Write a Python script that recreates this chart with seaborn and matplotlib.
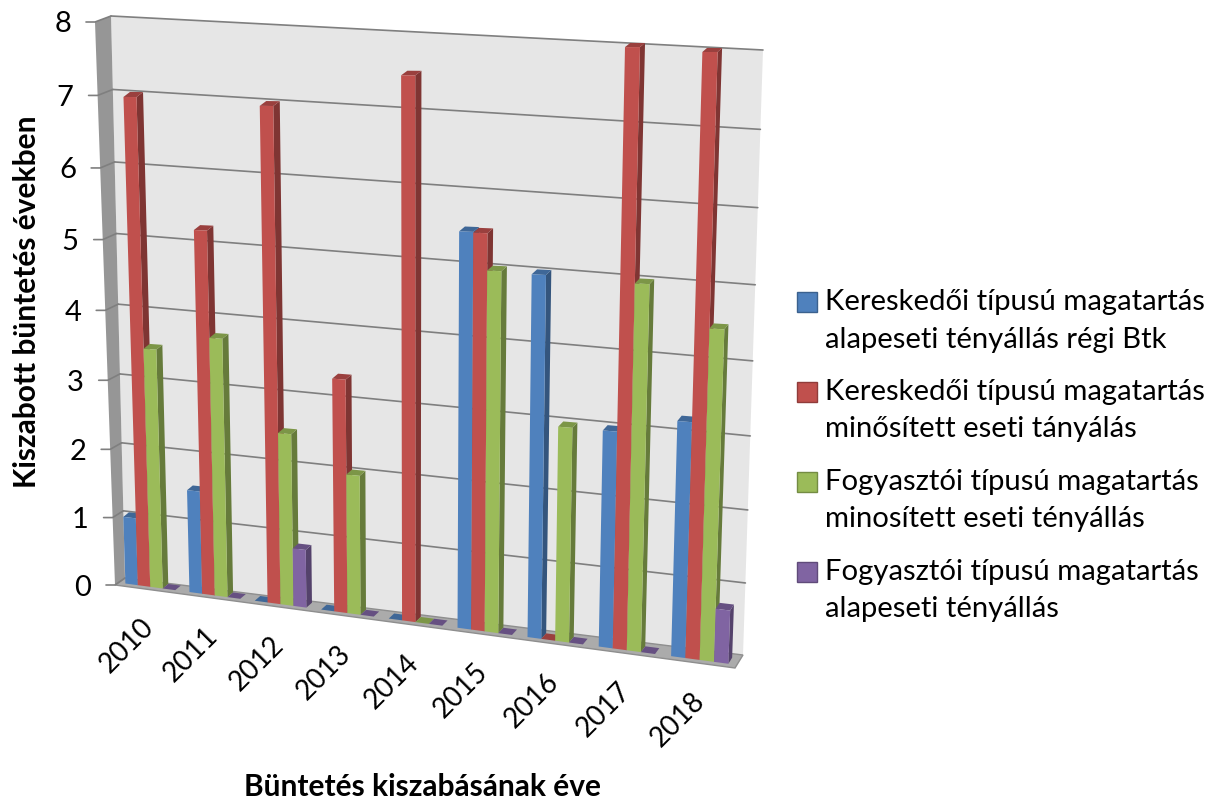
import numpy as np
import pandas as pd
import seaborn as sns
import matplotlib
matplotlib.use("Agg")
import matplotlib.pyplot as plt
from matplotlib.patches import Polygon, Patch, Rectangle
from matplotlib.transforms import Transform, Affine2D
from matplotlib.legend_handler import HandlerPatch

years = ["2010", "2011", "2012", "2013", "2014", "2015", "2016", "2017", "2018"]
s1_name = "Kereskedői típusú magatartás\nalapeseti tényállás régi Btk"
s2_name = "Kereskedői típusú magatartás\nminősített eseti tányálás"
s3_name = "Fogyasztói típusú magatartás\nminosített eseti tényállás"
s4_name = "Fogyasztói típusú magatartás\nalapeseti tényállás"
s1 = [1.0, 1.5, 0, 0, 0, 5.33, 4.82, 2.87, 3.07]
s2 = [7.0, 5.2, 6.9, 3.27, 7.31, 5.32, 0, 7.66, 7.6]
s3 = [3.49, 3.71, 2.45, 1.96, 0, 4.84, 2.87, 4.77, 4.26]
s4 = [0, 0, 0.83, 0, 0, 0, 0, 0, 0.7]
colors = {s1_name: "#4F81BD", s2_name: "#C0504D", s3_name: "#9BBB59", s4_name: "#8064A2"}
y_label = "Kiszabott büntetés években"
x_label = "Büntetés kiszabásának éve"

sns.set_theme(style="white")
plt.rcParams["font.family"] = ["Lato", "DejaVu Sans"]

rows = [(y, n, v) for n, vals in [(s1_name, s1), (s2_name, s2), (s3_name, s3), (s4_name, s4)]
        for y, v in zip(years, vals)]
df = pd.DataFrame(rows, columns=["year", "series", "value"])


def homography(src, dst):
    A, b = [], []
    for (x, y), (X, Y) in zip(src, dst):
        A.append([x, y, 1, 0, 0, 0, -x * X, -y * X]); b.append(X)
        A.append([0, 0, 0, x, y, 1, -x * Y, -y * Y]); b.append(Y)
    return np.append(np.linalg.solve(np.array(A, float), np.array(b, float)), 1).reshape(3, 3)


class Proj(Transform):
    """Projective map; bow widens the spacing of the categories in the middle of the chart."""
    input_dims = output_dims = 2
    is_separable = False
    has_inverse = False

    def __init__(self, H, bow=0.0, span=(0.0, 8.0)):
        super().__init__()
        self.H, self.bow, self.span = H, bow, span

    def transform_non_affine(self, values):
        v = np.array(values, float)
        v[:, 0] = v[:, 0] + self.bow * (v[:, 0] - self.span[0]) * (self.span[1] - v[:, 0])
        p = np.c_[v, np.ones(len(v))] @ self.H.T
        return p[:, :2] / p[:, 2:]


W, Hpx = 1224, 800
pix = Affine2D().scale(1, -1).translate(0, Hpx)

fig = plt.figure(figsize=(W / 100, Hpx / 100), dpi=100)
ax = fig.add_axes([0, 0, 1, 1])
group_width = 0.78
sns.barplot(data=df, x="year", y="value", hue="series", hue_order=list(colors), palette=colors,
            order=years, width=group_width, saturation=1, linewidth=0, legend=False, ax=ax)
w = group_width / 4

# Perspective planes
ulo, uhi = -0.5, 8.5
ua, ub = -w / 2, 8 - w / 2
front_src = [(ua, 0), (ua, 7), (ub, 0), (ub, 7.6)]
front_dst = [(144, 586), (130, 97), (692.5, 659), (710, 52)]
depth = [(5.5, -4.5), (6.5, -5), (4, -6), (4.5, -4)]
H_front = homography(front_src, front_dst)
H_depth = homography(front_src, [(a + c, b + d) for (a, b), (c, d) in zip(front_dst, depth)])
wall_src = [(ulo, 0), (ulo, 8), (uhi, 0), (uhi, 8)]
H_wall = homography(wall_src, [(125, 578), (111, 16), (743, 655), (763, 50)])
H_frame = homography(wall_src, [(115, 585), (95, 22), (735, 668), (747, 56)])
BOW = 0.0075
P_front = Proj(H_front, BOW, (ua, ub))
P_depth = Proj(H_depth, BOW, (ua, ub))
P_wall, P_frame = Proj(H_wall), Proj(H_frame)
T_front, T_wall, T_frame = P_front + pix, P_wall + pix, P_frame + pix


def to_px(proj, u, v):
    return proj.transform(np.array([[u, v]], float))[0]


ax.set_xlim(ulo, uhi)
ax.set_ylim(0, 8)
for s in ax.spines.values():
    s.set_visible(False)
ax.set_xticks([])
ax.set_yticks([])

bars = sorted([p for p in ax.patches if isinstance(p, Rectangle)], key=lambda p: p.get_x())

# Walls and floor
ax.add_patch(Polygon([(ulo, 0), (uhi, 0), (uhi, 8), (ulo, 8)], closed=True, transform=T_wall,
                     fc="#E6E6E6", ec="none", zorder=0.5))
side = [to_px(P_frame, ulo, 0), to_px(P_frame, ulo, 8), to_px(P_wall, ulo, 8), to_px(P_wall, ulo, 0)]
ax.add_patch(Polygon(side, closed=True, transform=pix, fc="#969696", ec="none", zorder=0.6))
floor = [to_px(P_frame, ulo, 0), to_px(P_wall, ulo, 0), to_px(P_wall, uhi, 0), to_px(P_frame, uhi, 0)]
ax.add_patch(Polygon(floor, closed=True, transform=pix, fc="#ABABAB", ec="#8E8E8E", lw=1, zorder=0.7))

# Gridlines, wall tracks, ticks, tick labels
grid = "#7F7F7F"
for v in range(1, 9):
    ax.plot([ulo, uhi], [v, v], transform=T_wall, color=grid, lw=1.2, zorder=1, clip_on=False)
for v in range(0, 9):
    a, b = to_px(P_frame, ulo, v), to_px(P_wall, ulo, v)
    ax.plot([a[0] - 9, a[0], b[0]], [a[1], a[1], b[1]], transform=pix, color=grid, lw=1.2,
            zorder=1, clip_on=False)
    ax.text(a[0] - 24, a[1], str(v), ha="right", va="center_baseline", fontsize=21, color="black",
            transform=pix, clip_on=False)


def shade(c, f):
    return tuple(np.array(matplotlib.colors.to_rgb(c)) * f)


# Side and top faces derived from the seaborn bars themselves
for k, bar in enumerate(bars):
    x0, x1, h = bar.get_x(), bar.get_x() + bar.get_width(), bar.get_height()
    col = bar.get_facecolor()
    z = 2 + k * 0.01
    f_br, f_tr, f_tl = [to_px(P_front, *p) for p in [(x1, 0), (x1, h), (x0, h)]]
    b_br, b_tr, b_tl = [to_px(P_depth, *p) for p in [(x1, 0), (x1, h), (x0, h)]]
    if h > 0:
        ax.add_patch(Polygon([f_br, f_tr, b_tr, b_br], closed=True, transform=pix, fc=shade(col, 0.66),
                             ec="none", zorder=z))
    ax.add_patch(Polygon([f_tl, f_tr, b_tr, b_tl], closed=True, transform=pix,
                         fc=shade(col, 0.8), ec="none", zorder=z + 0.001, clip_on=False))
    bar.set_transform(T_front)
    bar.set_zorder(z + 0.002)
    bar.set_clip_on(False)

# Year labels
for i, yr in enumerate(years):
    ax.text(i, 0, yr, rotation=45, rotation_mode="anchor", ha="right", va="center", fontsize=20,
            color="black", transform=T_frame + Affine2D().translate(3, -34), clip_on=False)

ax.set_xlabel(x_label, fontsize=21.5, fontweight="bold", color="black")
ax.xaxis.set_label_coords(423 / W, 1 - 787 / Hpx, transform=ax.transAxes)
ax.xaxis.label.set_va("center")
ax.set_ylabel(y_label, fontsize=21.5, fontweight="bold", color="black")
ax.yaxis.set_label_coords(27 / W, 1 - 302 / Hpx, transform=ax.transAxes)
ax.yaxis.label.set_va("center")


class FirstLine(HandlerPatch):
    def __init__(self, shift=0, **kw):
        super().__init__(**kw)
        self.shift = shift

    def create_artists(self, legend, orig, xd, yd, width, height, fontsize, trans):
        return [Rectangle((0, 0), 14.4, 14.4, fc=orig.get_facecolor(), ec=shade(orig.get_facecolor(), 0.75),
                          lw=1, transform=Affine2D().translate(0, self.shift) + trans)]


handles = [Patch(facecolor=c) for c in colors.values()]
leg = ax.legend(handles, list(colors), loc="upper left", bbox_to_anchor=(797 / W, 1 - 289 / Hpx),
                bbox_transform=ax.transAxes, frameon=False, fontsize=21.1, labelspacing=0.9,
                handlelength=0.66, handleheight=0.66, handletextpad=0.28, borderpad=0, borderaxespad=0,
                handler_map={Patch: FirstLine(shift=14)})
for t in leg.get_texts():
    t.set_linespacing(1.55)
    t.set_color("black")

fig.savefig("out.png", dpi=100)
